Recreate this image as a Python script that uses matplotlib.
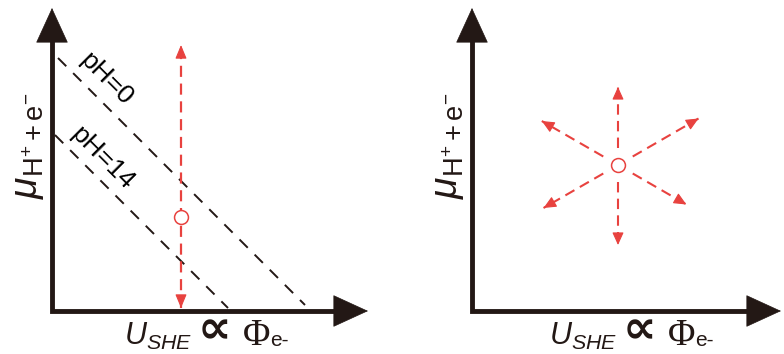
import numpy as np
import matplotlib
matplotlib.use("Agg")
import matplotlib.pyplot as plt

plt.rcParams['font.family'] = ['Liberation Sans', 'DejaVu Sans']
plt.rcParams['mathtext.fontset'] = 'custom'
plt.rcParams['mathtext.rm'] = 'Liberation Sans'
plt.rcParams['mathtext.it'] = 'Liberation Sans:italic'

# schematic values (1 unit ~ 10 px)
axis_len_x = [31.6, 30.9]
axis_len_y = [30.3, 30.3]
ph_labels = ['pH=0', 'pH=14']
ph_intercepts = [25.9, 17.9]      # lines of slope -1
ph_x_start = [0.6, 0.3]
ph_x_end = [25.3, 17.6]
ph_label_pos = [(5.4, 23.2), (5.0, 15.3)]

# left panel: fixed potential, varying mu
point_left = (12.9, 9.4)
vert_arrow_y = [0.3, 26.6]

# right panel: free point, arrows outward
point_right = (14.6, 14.6)
arrow_angles = [90, 30, 150, 210, 330, 270]
arrow_start = 1.7
arrow_end = [7.8, 9.3, 8.8, 8.6, 7.9, 8.0]

dark = '#231815'
red = '#e8423f'

ylabel = r'$\mu_{\mathrm{H^{+}+e^{-}}}$'


def head(ax, tip, direction, color, scale, hl, hw, lw=0.8):
    d = np.array(direction, float)
    d = d / np.linalg.norm(d)
    back = np.array(tip) - d * 0.4
    ax.annotate('', xy=tip, xytext=back,
                arrowprops=dict(arrowstyle='-|>,head_length=%g,head_width=%g' % (hl, hw),
                                mutation_scale=scale, lw=lw, color=color,
                                shrinkA=0, shrinkB=0))


def draw_axes(ax, i):
    lx, ly = axis_len_x[i], axis_len_y[i]
    ax.plot([0, 0, lx - 1.5], [ly - 1.5, 0, 0], color=dark, lw=3.5,
            solid_joinstyle='miter', solid_capstyle='butt')
    head(ax, (0, ly), (0, 1), dark, 10, 2.4, 1.1, lw=0.5)
    head(ax, (lx, 0), (1, 0), dark, 10, 2.4, 1.1, lw=0.5)


def draw_xlabel(ax, dx):
    yb = -3.4
    ax.text(14.0 + dx, yb, r'$U_{SHE}$', ha='right', va='baseline',
            fontsize=22, color=dark)
    ax.text(16.2 + dx, -2.0, '\u221d', ha='center', va='center',
            fontsize=34, color=dark, family='DejaVu Sans', weight='bold')
    ax.text(19.1 + dx, yb, '\u03a6', ha='left', va='baseline',
            fontsize=27, color=dark, family='Liberation Serif')
    ax.text(21.8 + dx, yb - 0.1, 'e-', ha='left', va='baseline',
            fontsize=15, color=dark)


fig = plt.figure(figsize=(7.84, 3.54), dpi=100)
ax1 = fig.add_axes([0, 0, 0.5, 1])
ax2 = fig.add_axes([0.5, 0, 0.5, 1])
ax1.set_xlim(-5.2, 34.0); ax1.set_ylim(-4.3, 31.1)
ax2.set_xlim(-8.0, 31.2); ax2.set_ylim(-4.3, 31.1)

for i, ax in enumerate([ax1, ax2]):
    ax.axis('off')
    draw_axes(ax, i)
    ax.text(-2.4, 16.5, ylabel, rotation=90, ha='center', va='center',
            fontsize=28, color=dark)

draw_xlabel(ax1, 0)
draw_xlabel(ax2, 0.5)

# pH lines
for lab, b, x0, x1, pos in zip(ph_labels, ph_intercepts, ph_x_start, ph_x_end, ph_label_pos):
    xs = np.array([x0, x1])
    ax1.plot(xs, b - xs, color=dark, lw=1.4, ls=(0, (6, 5)))
    ax1.text(pos[0], pos[1], lab, rotation=-45, ha='center', va='center',
             fontsize=19, color='black', rotation_mode='anchor')

# left vertical double arrow
ax1.plot([point_left[0]] * 2, vert_arrow_y, color=red, lw=1.6, ls=(0, (5, 3)))
head(ax1, (point_left[0], vert_arrow_y[1]), (0, 1), red, 7, 1.2, 0.5)
head(ax1, (point_left[0], vert_arrow_y[0]), (0, -1), red, 7, 1.2, 0.5)
ax1.plot(*point_left, 'o', ms=10, mfc='white', mec=red, mew=1.1, zorder=5)

# right radial arrows
cx, cy = point_right
for ang, r1 in zip(arrow_angles, arrow_end):
    d = np.array([np.cos(np.radians(ang)), np.sin(np.radians(ang))])
    p0 = np.array([cx, cy]) + d * arrow_start
    p1 = np.array([cx, cy]) + d * r1
    ax2.plot([p0[0], p1[0]], [p0[1], p1[1]], color=red, lw=1.5, ls=(0, (5, 3)))
    head(ax2, tuple(p1), d, red, 7, 1.1, 0.5)
ax2.plot(cx, cy, 'o', ms=10, mfc='white', mec=red, mew=1.1, zorder=5)

fig.savefig('out.png', dpi=100)
